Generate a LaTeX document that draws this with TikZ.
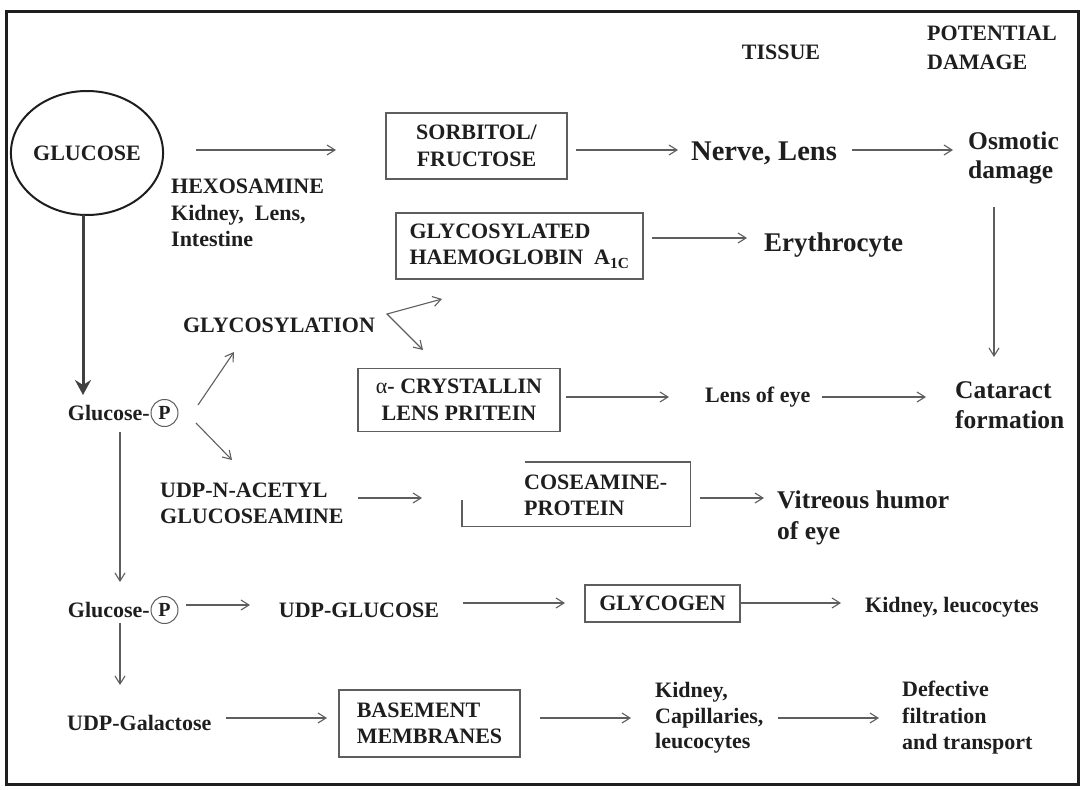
\documentclass[tikz,border=0pt]{standalone}
\usepackage{fontspec}
\setmainfont{Liberation Serif}
\usetikzlibrary{arrows.meta,shapes.geometric}
\definecolor{ink}{HTML}{1E1E1E}
\definecolor{linec}{HTML}{5E5E5E}
\begin{document}
\begin{tikzpicture}[x=1pt,y=-1pt,
  txt/.style={inner sep=0pt, text=ink, font=\fontsize{22}{26.5}\selectfont\bfseries},
  box/.style={txt, draw=linec, line width=1.4pt},
  pc/.style={txt, circle, draw=linec, line width=1pt, minimum size=27pt, font=\fontsize{20}{24}\selectfont\bfseries},
  arr/.style={draw=linec, line width=1.1pt, -{Straight Barb[length=8pt,width=10pt]}},
  arrb/.style={draw=linec, line width=1.1pt, {Straight Barb[length=8pt,width=10pt]}-{Straight Barb[length=8pt,width=10pt]}},
  thickarr/.style={draw=ink!85, line width=3pt, -{Stealth[length=15pt,width=16pt,inset=5pt]}}
]
\useasboundingbox (0,0) rectangle (1080,790);
\draw[line width=3pt, draw=ink] (6,11) rectangle (1078,784);

% headings
\node[txt] (tissue) at (781,52) {TISSUE};
\node[txt, anchor=west, align=left, font=\fontsize{22}{29}\selectfont\bfseries] (pot) at (927,48) {POTENTIAL\\DAMAGE};

% row 1
\node[txt, ellipse, draw=ink, line width=2pt, minimum width=143pt, minimum height=124pt] (glucose) at (87,153) {GLUCOSE};
\node[txt, anchor=west, align=left] (hexo) at (171,213) {HEXOSAMINE\\Kidney,\ \ Lens,\\Intestine};
\node[box, minimum width=181pt, minimum height=66pt, align=center] (sorb) at (476.5,146) {SORBITOL/\\FRUCTOSE};
\node[txt, anchor=west, font=\fontsize{28.5}{32}\selectfont\bfseries] (nerve) at (691,153) {Nerve, Lens};
\node[txt, anchor=west, align=left, font=\fontsize{25.5}{29}\selectfont\bfseries] (osm) at (968,157.5) {Osmotic\\damage};

% row 2
\node[box, minimum width=247pt, minimum height=66pt, align=left] (glyco) at (519.5,246) {GLYCOSYLATED\\HAEMOGLOBIN\ \ A\textsubscript{1C}};
\node[txt, anchor=west, font=\fontsize{27}{30}\selectfont\bfseries] (ery) at (764,245) {Erythrocyte};

% glycosylation
\node[txt] (glycosylation) at (279,325) {GLYCOSYLATION};
\node[box, minimum width=202pt, minimum height=63pt, align=center] (alpha) at (459,400) {{\mdseries α}- CRYSTALLIN\\LENS PRITEIN};
\node[txt, anchor=west] (lens) at (705,397) {Lens of eye};
\node[txt, anchor=west, align=left, font=\fontsize{25.5}{30}\selectfont\bfseries] (cat) at (955,405) {Cataract\\formation};

% glucose-P 1
\node[txt, anchor=east] (g1) at (150,413) {Glucose-};
\node[pc] (p1) at (164.5,413) {P};

% UDP-N-acetyl
\node[txt, anchor=west, align=left] (udpn) at (160,503.5) {UDP-N-ACETYL\\GLUCOSEAMINE};
\node[inner sep=0pt, minimum width=228pt, minimum height=64pt] (gbox) at (576,494) {};
\draw[draw=linec, line width=1.4pt] ([yshift=26pt]gbox.south west) -- (gbox.south west) -- (gbox.south east) -- (gbox.north east) -- ([xshift=63pt]gbox.north west);
\node[txt, anchor=west, align=left] (gtext) at (524,495.5) {COSEAMINE-\\PROTEIN};
\node[txt, anchor=west, align=left, font=\fontsize{25.5}{31}\selectfont\bfseries] (vit) at (777,517.5) {Vitreous humor\\of eye};

% glucose-P 2
\node[txt, anchor=east] (g2) at (150,610) {Glucose-};
\node[pc] (p2) at (164.5,610) {P};
\node[txt] (udpg) at (359,610) {UDP-GLUCOSE};
\node[box, minimum width=155pt, minimum height=37pt] (glycogen) at (662.5,603.5) {GLYCOGEN};
\node[txt, anchor=west] (kid1) at (865,607) {Kidney, leucocytes};

% bottom row
\node[txt, anchor=west] (udpgal) at (67,723) {UDP-Galactose};
\node[box, minimum width=181pt, minimum height=67pt, align=left] (base) at (429.5,723.5) {BASEMENT\\MEMBRANES};
\node[txt, anchor=west, align=left, font=\fontsize{22}{25.5}\selectfont\bfseries] (kid2) at (655,718) {Kidney,\\Capillaries,\\leucocytes};
\node[txt, anchor=west, align=left, font=\fontsize{22}{26.5}\selectfont\bfseries] (def) at (902,718) {Defective\\filtration\\and transport};

% connectors
\draw[arr] ([xshift=109pt,yshift=3pt]glucose.center) -- ([xshift=-140.5pt,yshift=-4pt]sorb.center);
\draw[arr] ([xshift=99.5pt,yshift=-4pt]sorb.center) -- ([xshift=-13pt,yshift=3pt]nerve.west);
\draw[arr] ([xshift=161pt,yshift=3pt]nerve.west) -- ([xshift=-15pt,yshift=7.5pt]osm.west);
\draw[arr] ([xshift=26pt,yshift=-49.5pt]osm.west) -- ([xshift=39pt,yshift=48pt]cat.west);
\draw[arr] ([xshift=132.5pt,yshift=8pt]glyco.center) -- ([xshift=-17pt,yshift=7pt]ery.west);
\draw[thickarr] ([xshift=-4pt,yshift=-62pt]glucose.center) -- ([xshift=-67pt,yshift=18pt]g1.east);
\draw[arr] ([xshift=33.5pt,yshift=8pt]p1.center) -- ([xshift=-45pt,yshift=-27pt]glycosylation.center);
\draw[arr] ([xshift=31.5pt,yshift=-10pt]p1.center) -- ([xshift=72pt,yshift=43.5pt]udpn.west);
\coordinate (vtx) at ([xshift=108pt,yshift=11pt]glycosylation.center);
\draw[arrb] ([xshift=-77.5pt,yshift=-53pt]glyco.center) -- (vtx) -- ([xshift=-36pt,yshift=50pt]alpha.center);
\draw[arr] ([xshift=107pt,yshift=3pt]alpha.center) -- ([xshift=-36pt]lens.west);
\draw[arr] ([xshift=117pt]lens.west) -- ([xshift=-29pt,yshift=8pt]cat.west);
\draw[arr] ([xshift=198pt,yshift=5.5pt]udpn.west) -- ([xshift=-154pt,yshift=-4pt]gbox.center);
\draw[arr] ([xshift=124pt,yshift=-4pt]gbox.center) -- ([xshift=-13pt,yshift=19.5pt]vit.west);
\draw[arr] ([xshift=-30pt,yshift=-19pt]g1.east) -- ([xshift=-30pt,yshift=28pt]g2.east);
\draw[arr] ([xshift=21.5pt,yshift=5pt]p2.center) -- ([xshift=-109pt,yshift=5pt]udpg.center);
\draw[arr] ([xshift=104pt,yshift=7pt]udpg.center) -- ([xshift=-97.5pt,yshift=0.5pt]glycogen.center);
\draw[arr] ([xshift=77.5pt,yshift=0.5pt]glycogen.center) -- ([xshift=-24pt,yshift=4pt]kid1.west);
\draw[arr] ([xshift=-30pt,yshift=-13pt]g2.east) -- ([xshift=53pt,yshift=38pt]udpgal.west);
\draw[arr] ([xshift=159pt,yshift=5pt]udpgal.west) -- ([xshift=-102.5pt,yshift=5.5pt]base.center);
\draw[arr] ([xshift=110.5pt,yshift=5.5pt]base.center) -- ([xshift=-24pt]kid2.west);
\draw[arr] ([xshift=123pt]kid2.west) -- ([xshift=-23pt]def.west);
\end{tikzpicture}
\end{document}
